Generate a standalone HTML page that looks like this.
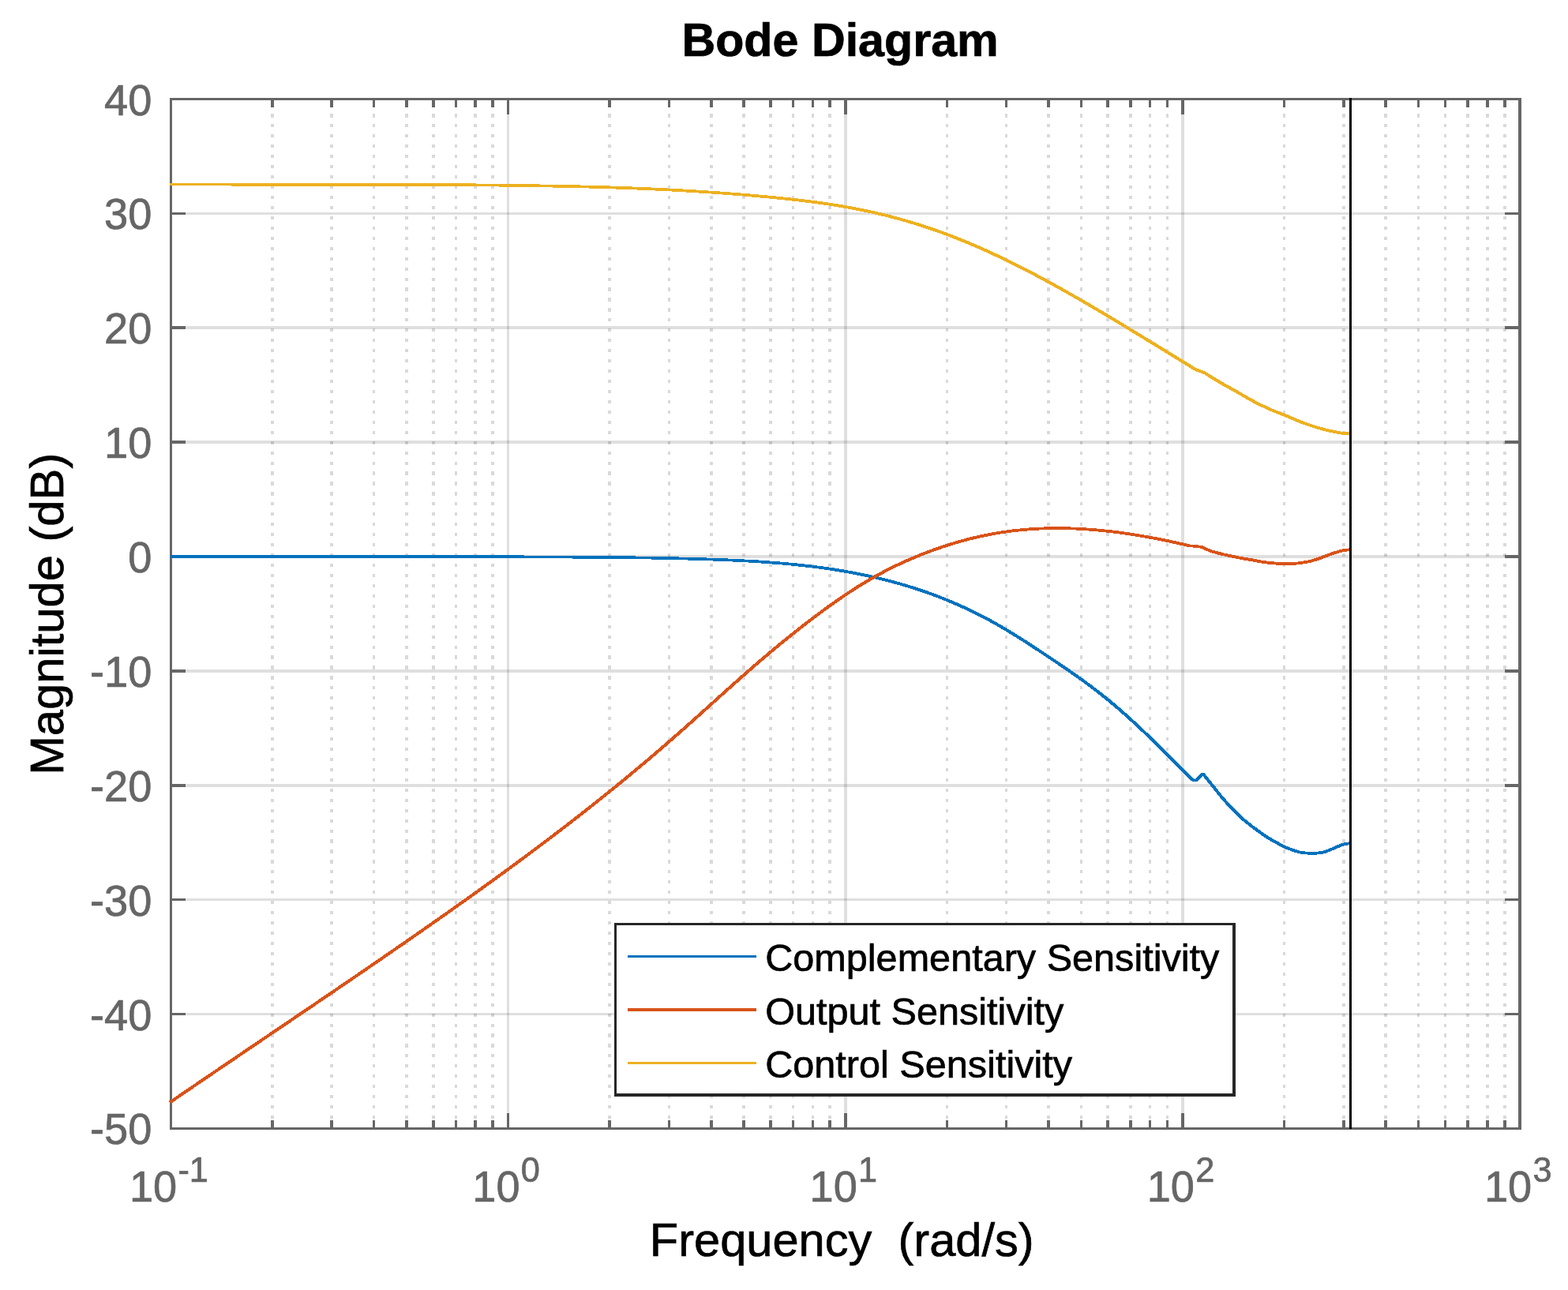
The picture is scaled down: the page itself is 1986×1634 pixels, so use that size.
<!DOCTYPE html>
<html><head><meta charset="utf-8"><title>Bode Diagram</title>
<style>html,body{margin:0;padding:0;background:#fff}svg text{font-family:"Liberation Sans",Arial,Helvetica,sans-serif}</style>
</head><body>
<svg xmlns="http://www.w3.org/2000/svg" width="1986" height="1634" viewBox="0 0 1986 1634" style="display:block">
<rect x="0" y="0" width="1986" height="1634" fill="#fff"/>
<g shape-rendering="crispEdges">
<line x1="345.0" y1="1430.1" x2="345.0" y2="127" stroke="rgba(38,38,38,0.175)" stroke-width="4" stroke-dasharray="4.15 8.795"/>
<line x1="420.0" y1="1430.1" x2="420.0" y2="127" stroke="rgba(38,38,38,0.175)" stroke-width="4" stroke-dasharray="4.15 8.795"/>
<line x1="473.5" y1="1430.1" x2="473.5" y2="127" stroke="rgba(38,38,38,0.175)" stroke-width="3" stroke-dasharray="4.15 8.795"/>
<line x1="515.0" y1="1430.1" x2="515.0" y2="127" stroke="rgba(38,38,38,0.175)" stroke-width="4" stroke-dasharray="4.15 8.795"/>
<line x1="549.0" y1="1430.1" x2="549.0" y2="127" stroke="rgba(38,38,38,0.175)" stroke-width="4" stroke-dasharray="4.15 8.795"/>
<line x1="577.5" y1="1430.1" x2="577.5" y2="127" stroke="rgba(38,38,38,0.175)" stroke-width="3" stroke-dasharray="4.15 8.795"/>
<line x1="602.0" y1="1430.1" x2="602.0" y2="127" stroke="rgba(38,38,38,0.175)" stroke-width="4" stroke-dasharray="4.15 8.795"/>
<line x1="624.0" y1="1430.1" x2="624.0" y2="127" stroke="rgba(38,38,38,0.175)" stroke-width="4" stroke-dasharray="4.15 8.795"/>
<line x1="772.0" y1="1430.1" x2="772.0" y2="127" stroke="rgba(38,38,38,0.175)" stroke-width="4" stroke-dasharray="4.15 8.795"/>
<line x1="847.5" y1="1430.1" x2="847.5" y2="127" stroke="rgba(38,38,38,0.175)" stroke-width="3" stroke-dasharray="4.15 8.795"/>
<line x1="901.0" y1="1430.1" x2="901.0" y2="127" stroke="rgba(38,38,38,0.175)" stroke-width="4" stroke-dasharray="4.15 8.795"/>
<line x1="942.0" y1="1430.1" x2="942.0" y2="127" stroke="rgba(38,38,38,0.175)" stroke-width="4" stroke-dasharray="4.15 8.795"/>
<line x1="976.0" y1="1430.1" x2="976.0" y2="127" stroke="rgba(38,38,38,0.175)" stroke-width="4" stroke-dasharray="4.15 8.795"/>
<line x1="1004.5" y1="1430.1" x2="1004.5" y2="127" stroke="rgba(38,38,38,0.175)" stroke-width="3" stroke-dasharray="4.15 8.795"/>
<line x1="1029.5" y1="1430.1" x2="1029.5" y2="127" stroke="rgba(38,38,38,0.175)" stroke-width="3" stroke-dasharray="4.15 8.795"/>
<line x1="1051.0" y1="1430.1" x2="1051.0" y2="127" stroke="rgba(38,38,38,0.175)" stroke-width="4" stroke-dasharray="4.15 8.795"/>
<line x1="1199.5" y1="1430.1" x2="1199.5" y2="127" stroke="rgba(38,38,38,0.175)" stroke-width="3" stroke-dasharray="4.15 8.795"/>
<line x1="1274.5" y1="1430.1" x2="1274.5" y2="127" stroke="rgba(38,38,38,0.175)" stroke-width="3" stroke-dasharray="4.15 8.795"/>
<line x1="1328.0" y1="1430.1" x2="1328.0" y2="127" stroke="rgba(38,38,38,0.175)" stroke-width="4" stroke-dasharray="4.15 8.795"/>
<line x1="1369.5" y1="1430.1" x2="1369.5" y2="127" stroke="rgba(38,38,38,0.175)" stroke-width="3" stroke-dasharray="4.15 8.795"/>
<line x1="1403.0" y1="1430.1" x2="1403.0" y2="127" stroke="rgba(38,38,38,0.175)" stroke-width="4" stroke-dasharray="4.15 8.795"/>
<line x1="1432.0" y1="1430.1" x2="1432.0" y2="127" stroke="rgba(38,38,38,0.175)" stroke-width="4" stroke-dasharray="4.15 8.795"/>
<line x1="1456.5" y1="1430.1" x2="1456.5" y2="127" stroke="rgba(38,38,38,0.175)" stroke-width="3" stroke-dasharray="4.15 8.795"/>
<line x1="1478.5" y1="1430.1" x2="1478.5" y2="127" stroke="rgba(38,38,38,0.175)" stroke-width="3" stroke-dasharray="4.15 8.795"/>
<line x1="1626.5" y1="1430.1" x2="1626.5" y2="127" stroke="rgba(38,38,38,0.175)" stroke-width="3" stroke-dasharray="4.15 8.795"/>
<line x1="1702.0" y1="1430.1" x2="1702.0" y2="127" stroke="rgba(38,38,38,0.175)" stroke-width="4" stroke-dasharray="4.15 8.795"/>
<line x1="1755.0" y1="1430.1" x2="1755.0" y2="127" stroke="rgba(38,38,38,0.175)" stroke-width="4" stroke-dasharray="4.15 8.795"/>
<line x1="1796.5" y1="1430.1" x2="1796.5" y2="127" stroke="rgba(38,38,38,0.175)" stroke-width="3" stroke-dasharray="4.15 8.795"/>
<line x1="1830.5" y1="1430.1" x2="1830.5" y2="127" stroke="rgba(38,38,38,0.175)" stroke-width="3" stroke-dasharray="4.15 8.795"/>
<line x1="1859.0" y1="1430.1" x2="1859.0" y2="127" stroke="rgba(38,38,38,0.175)" stroke-width="4" stroke-dasharray="4.15 8.795"/>
<line x1="1884.0" y1="1430.1" x2="1884.0" y2="127" stroke="rgba(38,38,38,0.175)" stroke-width="4" stroke-dasharray="4.15 8.795"/>
<line x1="1906.0" y1="1430.1" x2="1906.0" y2="127" stroke="rgba(38,38,38,0.175)" stroke-width="4" stroke-dasharray="4.15 8.795"/>
<rect x="642" y="127" width="3" height="1301" fill="rgba(38,38,38,0.15)"/>
<rect x="1069" y="127" width="4" height="1301" fill="rgba(38,38,38,0.15)"/>
<rect x="1496" y="127" width="4" height="1301" fill="rgba(38,38,38,0.15)"/>
<rect x="218" y="269" width="1705" height="3" fill="rgba(38,38,38,0.15)"/>
<rect x="218" y="413" width="1705" height="4" fill="rgba(38,38,38,0.15)"/>
<rect x="218" y="558" width="1705" height="4" fill="rgba(38,38,38,0.15)"/>
<rect x="218" y="703" width="1705" height="4" fill="rgba(38,38,38,0.15)"/>
<rect x="218" y="848" width="1705" height="4" fill="rgba(38,38,38,0.15)"/>
<rect x="218" y="993" width="1705" height="4" fill="rgba(38,38,38,0.15)"/>
<rect x="218" y="1138" width="1705" height="3" fill="rgba(38,38,38,0.15)"/>
<rect x="218" y="1283" width="1705" height="3" fill="rgba(38,38,38,0.15)"/>
</g>
<g fill="#666666" shape-rendering="crispEdges">
<rect x="343" y="1419" width="4" height="9"/>
<rect x="343" y="127" width="4" height="9"/>
<rect x="418" y="1419" width="4" height="9"/>
<rect x="418" y="127" width="4" height="9"/>
<rect x="472" y="1419" width="3" height="9"/>
<rect x="472" y="127" width="3" height="9"/>
<rect x="513" y="1419" width="4" height="9"/>
<rect x="513" y="127" width="4" height="9"/>
<rect x="547" y="1419" width="4" height="9"/>
<rect x="547" y="127" width="4" height="9"/>
<rect x="576" y="1419" width="3" height="9"/>
<rect x="576" y="127" width="3" height="9"/>
<rect x="600" y="1419" width="4" height="9"/>
<rect x="600" y="127" width="4" height="9"/>
<rect x="622" y="1419" width="4" height="9"/>
<rect x="622" y="127" width="4" height="9"/>
<rect x="642" y="1410" width="3" height="18"/>
<rect x="642" y="127" width="3" height="18"/>
<rect x="770" y="1419" width="4" height="9"/>
<rect x="770" y="127" width="4" height="9"/>
<rect x="846" y="1419" width="3" height="9"/>
<rect x="846" y="127" width="3" height="9"/>
<rect x="899" y="1419" width="4" height="9"/>
<rect x="899" y="127" width="4" height="9"/>
<rect x="940" y="1419" width="4" height="9"/>
<rect x="940" y="127" width="4" height="9"/>
<rect x="974" y="1419" width="4" height="9"/>
<rect x="974" y="127" width="4" height="9"/>
<rect x="1003" y="1419" width="3" height="9"/>
<rect x="1003" y="127" width="3" height="9"/>
<rect x="1028" y="1419" width="3" height="9"/>
<rect x="1028" y="127" width="3" height="9"/>
<rect x="1049" y="1419" width="4" height="9"/>
<rect x="1049" y="127" width="4" height="9"/>
<rect x="1069" y="1410" width="4" height="18"/>
<rect x="1069" y="127" width="4" height="18"/>
<rect x="1198" y="1419" width="3" height="9"/>
<rect x="1198" y="127" width="3" height="9"/>
<rect x="1273" y="1419" width="3" height="9"/>
<rect x="1273" y="127" width="3" height="9"/>
<rect x="1326" y="1419" width="4" height="9"/>
<rect x="1326" y="127" width="4" height="9"/>
<rect x="1368" y="1419" width="3" height="9"/>
<rect x="1368" y="127" width="3" height="9"/>
<rect x="1401" y="1419" width="4" height="9"/>
<rect x="1401" y="127" width="4" height="9"/>
<rect x="1430" y="1419" width="4" height="9"/>
<rect x="1430" y="127" width="4" height="9"/>
<rect x="1455" y="1419" width="3" height="9"/>
<rect x="1455" y="127" width="3" height="9"/>
<rect x="1477" y="1419" width="3" height="9"/>
<rect x="1477" y="127" width="3" height="9"/>
<rect x="1496" y="1410" width="4" height="18"/>
<rect x="1496" y="127" width="4" height="18"/>
<rect x="1625" y="1419" width="3" height="9"/>
<rect x="1625" y="127" width="3" height="9"/>
<rect x="1700" y="1419" width="4" height="9"/>
<rect x="1700" y="127" width="4" height="9"/>
<rect x="1753" y="1419" width="4" height="9"/>
<rect x="1753" y="127" width="4" height="9"/>
<rect x="1795" y="1419" width="3" height="9"/>
<rect x="1795" y="127" width="3" height="9"/>
<rect x="1829" y="1419" width="3" height="9"/>
<rect x="1829" y="127" width="3" height="9"/>
<rect x="1857" y="1419" width="4" height="9"/>
<rect x="1857" y="127" width="4" height="9"/>
<rect x="1882" y="1419" width="4" height="9"/>
<rect x="1882" y="127" width="4" height="9"/>
<rect x="1904" y="1419" width="4" height="9"/>
<rect x="1904" y="127" width="4" height="9"/>
<rect x="218" y="269" width="17" height="3"/>
<rect x="1906" y="269" width="17" height="3"/>
<rect x="218" y="413" width="17" height="4"/>
<rect x="1906" y="413" width="17" height="4"/>
<rect x="218" y="558" width="17" height="4"/>
<rect x="1906" y="558" width="17" height="4"/>
<rect x="218" y="703" width="17" height="4"/>
<rect x="1906" y="703" width="17" height="4"/>
<rect x="218" y="848" width="17" height="4"/>
<rect x="1906" y="848" width="17" height="4"/>
<rect x="218" y="993" width="17" height="4"/>
<rect x="1906" y="993" width="17" height="4"/>
<rect x="218" y="1138" width="17" height="3"/>
<rect x="1906" y="1138" width="17" height="3"/>
<rect x="218" y="1283" width="17" height="3"/>
<rect x="1906" y="1283" width="17" height="3"/>
<rect x="215" y="124" width="1712" height="3"/>
<rect x="215" y="1428" width="1712" height="3"/>
<rect x="215" y="124" width="3" height="1307"/>
<rect x="1923" y="124" width="4" height="1307"/>
</g>
<defs>
<path id="c-blue" d="M216.0,705.04 L218.5,705.04 L221.0,705.04 L223.5,705.05 L226.0,705.05 L228.5,705.05 L231.0,705.06 L233.5,705.06 L236.0,705.06 L238.5,705.07 L241.0,705.07 L243.5,705.07 L246.0,705.07 L248.5,705.08 L251.0,705.08 L253.5,705.08 L256.0,705.08 L258.5,705.08 L261.0,705.09 L263.5,705.09 L266.0,705.09 L268.5,705.09 L271.0,705.09 L273.5,705.09 L276.0,705.09 L278.5,705.10 L281.0,705.10 L283.5,705.10 L286.0,705.10 L288.5,705.10 L291.0,705.10 L293.5,705.10 L296.0,705.10 L298.5,705.10 L301.0,705.10 L303.5,705.10 L306.0,705.10 L308.5,705.10 L311.0,705.10 L313.5,705.10 L316.0,705.10 L318.5,705.10 L321.0,705.10 L323.5,705.10 L326.0,705.10 L328.5,705.10 L331.0,705.10 L333.5,705.10 L336.0,705.10 L338.5,705.10 L341.0,705.10 L343.5,705.10 L346.0,705.10 L348.5,705.10 L351.0,705.10 L353.5,705.10 L356.0,705.10 L358.5,705.09 L361.0,705.09 L363.5,705.09 L366.0,705.09 L368.5,705.09 L371.0,705.09 L373.5,705.09 L376.0,705.09 L378.5,705.09 L381.0,705.09 L383.5,705.09 L386.0,705.08 L388.5,705.08 L391.0,705.08 L393.5,705.08 L396.0,705.08 L398.5,705.08 L401.0,705.08 L403.5,705.08 L406.0,705.08 L408.5,705.08 L411.0,705.07 L413.5,705.07 L416.0,705.07 L418.5,705.07 L421.0,705.07 L423.5,705.07 L426.0,705.07 L428.5,705.07 L431.0,705.07 L433.5,705.07 L436.0,705.07 L438.5,705.07 L441.0,705.06 L443.5,705.06 L446.0,705.06 L448.5,705.06 L451.0,705.06 L453.5,705.06 L456.0,705.06 L458.5,705.06 L461.0,705.06 L463.5,705.06 L466.0,705.06 L468.5,705.06 L471.0,705.06 L473.5,705.06 L476.0,705.06 L478.5,705.06 L481.0,705.06 L483.5,705.06 L486.0,705.06 L488.5,705.06 L491.0,705.06 L493.5,705.06 L496.0,705.06 L498.5,705.06 L501.0,705.06 L503.5,705.06 L506.0,705.06 L508.5,705.06 L511.0,705.06 L513.5,705.06 L516.0,705.07 L518.5,705.07 L521.0,705.07 L523.5,705.07 L526.0,705.07 L528.5,705.07 L531.0,705.07 L533.5,705.08 L536.0,705.08 L538.5,705.08 L541.0,705.08 L543.5,705.08 L546.0,705.09 L548.5,705.09 L551.0,705.09 L553.5,705.09 L556.0,705.10 L558.5,705.10 L561.0,705.10 L563.5,705.10 L566.0,705.11 L568.5,705.11 L571.0,705.11 L573.5,705.12 L576.0,705.12 L578.5,705.13 L581.0,705.13 L583.5,705.13 L586.0,705.14 L588.5,705.14 L591.0,705.15 L593.5,705.15 L596.0,705.16 L598.5,705.16 L601.0,705.17 L603.5,705.17 L606.0,705.18 L608.5,705.18 L611.0,705.19 L613.5,705.19 L616.0,705.20 L618.5,705.21 L621.0,705.21 L623.5,705.22 L626.0,705.22 L628.5,705.23 L631.0,705.24 L633.5,705.25 L636.0,705.25 L638.5,705.26 L641.0,705.27 L643.5,705.28 L646.0,705.28 L648.5,705.29 L651.0,705.30 L653.5,705.31 L656.0,705.32 L658.5,705.33 L661.0,705.34 L663.5,705.35 L666.0,705.36 L668.5,705.37 L671.0,705.38 L673.5,705.39 L676.0,705.40 L678.5,705.41 L681.0,705.42 L683.5,705.43 L686.0,705.44 L688.5,705.45 L691.0,705.46 L693.5,705.48 L696.0,705.49 L698.5,705.50 L701.0,705.51 L703.5,705.53 L706.0,705.54 L708.5,705.55 L711.0,705.56 L713.5,705.58 L716.0,705.59 L718.5,705.61 L721.0,705.62 L723.5,705.64 L726.0,705.65 L728.5,705.67 L731.0,705.68 L733.5,705.70 L736.0,705.71 L738.5,705.73 L741.0,705.75 L743.5,705.76 L746.0,705.78 L748.5,705.80 L751.0,705.82 L753.5,705.83 L756.0,705.85 L758.5,705.87 L761.0,705.89 L763.5,705.91 L766.0,705.94 L768.5,705.96 L771.0,705.98 L773.5,706.00 L776.0,706.03 L778.5,706.05 L781.0,706.08 L783.5,706.10 L786.0,706.13 L788.5,706.16 L791.0,706.18 L793.5,706.21 L796.0,706.24 L798.5,706.27 L801.0,706.30 L803.5,706.34 L806.0,706.37 L808.5,706.40 L811.0,706.44 L813.5,706.48 L816.0,706.51 L818.5,706.55 L821.0,706.59 L823.5,706.63 L826.0,706.67 L828.5,706.72 L831.0,706.76 L833.5,706.81 L836.0,706.85 L838.5,706.90 L841.0,706.95 L843.5,707.00 L846.0,707.05 L848.5,707.11 L851.0,707.16 L853.5,707.22 L856.0,707.27 L858.5,707.33 L861.0,707.39 L863.5,707.45 L866.0,707.52 L868.5,707.58 L871.0,707.65 L873.5,707.71 L876.0,707.78 L878.5,707.85 L881.0,707.93 L883.5,708.00 L886.0,708.08 L888.5,708.15 L891.0,708.23 L893.5,708.31 L896.0,708.40 L898.5,708.48 L901.0,708.57 L903.5,708.66 L906.0,708.75 L908.5,708.84 L911.0,708.93 L913.5,709.03 L916.0,709.13 L918.5,709.23 L921.0,709.33 L923.5,709.44 L926.0,709.55 L928.5,709.66 L931.0,709.77 L933.5,709.89 L936.0,710.01 L938.5,710.14 L941.0,710.26 L943.5,710.39 L946.0,710.53 L948.5,710.66 L951.0,710.81 L953.5,710.95 L956.0,711.10 L958.5,711.25 L961.0,711.41 L963.5,711.57 L966.0,711.73 L968.5,711.90 L971.0,712.08 L973.5,712.26 L976.0,712.44 L978.5,712.63 L981.0,712.82 L983.5,713.02 L986.0,713.22 L988.5,713.43 L991.0,713.64 L993.5,713.86 L996.0,714.09 L998.5,714.32 L1001.0,714.55 L1003.5,714.79 L1006.0,715.04 L1008.5,715.29 L1011.0,715.55 L1013.5,715.82 L1016.0,716.09 L1018.5,716.37 L1021.0,716.65 L1023.5,716.94 L1026.0,717.24 L1028.5,717.54 L1031.0,717.86 L1033.5,718.17 L1036.0,718.50 L1038.5,718.83 L1041.0,719.17 L1043.5,719.52 L1046.0,719.87 L1048.5,720.23 L1051.0,720.60 L1053.5,720.98 L1056.0,721.37 L1058.5,721.76 L1061.0,722.16 L1063.5,722.57 L1066.0,722.99 L1068.5,723.42 L1071.0,723.85 L1073.5,724.29 L1076.0,724.75 L1078.5,725.21 L1081.0,725.68 L1083.5,726.15 L1086.0,726.64 L1088.5,727.14 L1091.0,727.64 L1093.5,728.16 L1096.0,728.68 L1098.5,729.22 L1101.0,729.76 L1103.5,730.32 L1106.0,730.88 L1108.5,731.45 L1111.0,732.04 L1113.5,732.63 L1116.0,733.24 L1118.5,733.85 L1121.0,734.47 L1123.5,735.11 L1126.0,735.76 L1128.5,736.41 L1131.0,737.08 L1133.5,737.76 L1136.0,738.45 L1138.5,739.15 L1141.0,739.87 L1143.5,740.59 L1146.0,741.33 L1148.5,742.08 L1151.0,742.84 L1153.5,743.61 L1156.0,744.39 L1158.5,745.19 L1161.0,746.00 L1163.5,746.82 L1166.0,747.66 L1168.5,748.50 L1171.0,749.36 L1173.5,750.24 L1176.0,751.12 L1178.5,752.02 L1181.0,752.93 L1183.5,753.86 L1186.0,754.80 L1188.5,755.75 L1191.0,756.72 L1193.5,757.70 L1196.0,758.70 L1198.5,759.70 L1201.0,760.73 L1203.5,761.77 L1206.0,762.82 L1208.5,763.89 L1211.0,764.97 L1213.5,766.06 L1216.0,767.18 L1218.5,768.30 L1221.0,769.44 L1223.5,770.60 L1226.0,771.77 L1228.5,772.96 L1231.0,774.17 L1233.5,775.39 L1236.0,776.62 L1238.5,777.87 L1241.0,779.14 L1243.5,780.43 L1246.0,781.73 L1248.5,783.04 L1251.0,784.38 L1253.5,785.73 L1256.0,787.09 L1258.5,788.48 L1261.0,789.88 L1263.5,791.30 L1266.0,792.73 L1268.5,794.18 L1271.0,795.65 L1273.5,797.13 L1276.0,798.62 L1278.5,800.13 L1281.0,801.65 L1283.5,803.19 L1286.0,804.74 L1288.5,806.29 L1291.0,807.86 L1293.5,809.44 L1296.0,811.03 L1298.5,812.63 L1301.0,814.23 L1303.5,815.85 L1306.0,817.47 L1308.5,819.10 L1311.0,820.74 L1313.5,822.38 L1316.0,824.03 L1318.5,825.68 L1321.0,827.34 L1323.5,829.00 L1326.0,830.66 L1328.5,832.33 L1331.0,834.00 L1333.5,835.67 L1336.0,837.35 L1338.5,839.03 L1341.0,840.71 L1343.5,842.41 L1346.0,844.10 L1348.5,845.81 L1351.0,847.52 L1353.5,849.24 L1356.0,850.98 L1358.5,852.72 L1361.0,854.47 L1363.5,856.23 L1366.0,858.01 L1368.5,859.79 L1371.0,861.59 L1373.5,863.41 L1376.0,865.24 L1378.5,867.08 L1381.0,868.94 L1383.5,870.82 L1386.0,872.71 L1388.5,874.62 L1391.0,876.56 L1393.5,878.51 L1396.0,880.48 L1398.5,882.47 L1401.0,884.48 L1403.5,886.51 L1406.0,888.57 L1408.5,890.65 L1411.0,892.75 L1413.5,894.87 L1416.0,897.01 L1418.5,899.18 L1421.0,901.36 L1423.5,903.56 L1426.0,905.78 L1428.5,908.02 L1431.0,910.28 L1433.5,912.55 L1436.0,914.84 L1438.5,917.15 L1441.0,919.47 L1443.5,921.81 L1446.0,924.17 L1448.5,926.54 L1451.0,928.92 L1453.5,931.32 L1456.0,933.73 L1458.5,936.16 L1461.0,938.59 L1463.5,941.04 L1466.0,943.50 L1468.5,945.98 L1471.0,948.46 L1473.5,950.95 L1476.0,953.45 L1478.5,955.96 L1481.0,958.48 L1483.5,961.01 L1486.0,963.55 L1488.5,966.09 L1491.0,968.65 L1493.5,971.20 L1496.0,973.77 L1498.5,976.34 L1500.0,977.88 L1505.0,982.60 L1510.4,987.60 L1511.9,988.40 L1513.4,988.60 L1514.9,988.40 L1516.4,987.40 L1522.0,981.30 L1523.4,980.60 L1524.7,981.40 L1529.6,987.60 L1530.0,988.08 L1532.5,991.11 L1535.0,994.16 L1535.6,994.90 L1537.5,997.27 L1540.0,1000.45 L1542.5,1003.64 L1545.0,1006.78 L1547.5,1009.81 L1548.0,1010.40 L1550.0,1012.71 L1552.5,1015.53 L1555.0,1018.28 L1557.5,1020.97 L1560.0,1023.61 L1562.1,1025.80 L1562.5,1026.21 L1565.0,1028.78 L1567.5,1031.28 L1570.0,1033.68 L1570.3,1034.00 L1572.5,1035.95 L1575.0,1038.13 L1577.5,1040.23 L1580.0,1042.28 L1580.4,1042.60 L1582.5,1044.27 L1585.0,1046.20 L1587.5,1048.08 L1590.0,1049.93 L1590.5,1050.30 L1592.5,1051.77 L1595.0,1053.58 L1597.5,1055.36 L1600.0,1057.09 L1600.6,1057.50 L1602.5,1058.77 L1605.0,1060.42 L1607.5,1062.01 L1610.0,1063.54 L1610.6,1063.90 L1612.5,1064.99 L1615.0,1066.37 L1617.5,1067.71 L1620.0,1069.03 L1620.7,1069.40 L1622.5,1070.36 L1625.0,1071.66 L1626.5,1072.40 L1627.5,1072.87 L1630.0,1073.97 L1630.8,1074.30 L1632.5,1074.97 L1635.0,1075.91 L1637.5,1076.79 L1640.0,1077.63 L1640.8,1077.90 L1642.5,1078.44 L1645.0,1079.20 L1646.4,1079.50 L1647.5,1079.68 L1650.0,1080.04 L1652.5,1080.34 L1655.0,1080.57 L1657.0,1080.70 L1657.5,1080.73 L1660.0,1080.86 L1662.0,1080.90 L1662.5,1080.90 L1665.0,1080.81 L1667.0,1080.70 L1667.5,1080.67 L1670.0,1080.45 L1672.5,1080.12 L1675.0,1079.71 L1676.1,1079.50 L1677.5,1079.15 L1680.0,1078.30 L1681.1,1077.90 L1682.5,1077.38 L1685.0,1076.36 L1687.5,1075.27 L1690.0,1074.20 L1691.2,1073.70 L1692.5,1073.15 L1695.0,1072.03 L1697.5,1070.95 L1700.0,1070.05 L1701.3,1069.70 L1702.5,1069.43 L1705.0,1068.91 L1707.5,1068.49 L1710.0,1068.22 L1710.4,1068.20"/>
<path id="c-orange" d="M215.5,1396.19 L218.0,1394.48 L220.5,1392.77 L223.0,1391.06 L225.5,1389.35 L228.0,1387.64 L230.5,1385.94 L233.0,1384.23 L235.5,1382.52 L238.0,1380.82 L240.5,1379.11 L243.0,1377.41 L245.5,1375.71 L248.0,1374.01 L250.5,1372.30 L253.0,1370.60 L255.5,1368.90 L258.0,1367.20 L260.5,1365.50 L263.0,1363.80 L265.5,1362.10 L268.0,1360.41 L270.5,1358.71 L273.0,1357.01 L275.5,1355.32 L278.0,1353.62 L280.5,1351.92 L283.0,1350.23 L285.5,1348.53 L288.0,1346.84 L290.5,1345.14 L293.0,1343.45 L295.5,1341.76 L298.0,1340.06 L300.5,1338.37 L303.0,1336.68 L305.5,1334.99 L308.0,1333.29 L310.5,1331.60 L313.0,1329.91 L315.5,1328.22 L318.0,1326.53 L320.5,1324.84 L323.0,1323.14 L325.5,1321.45 L328.0,1319.76 L330.5,1318.07 L333.0,1316.38 L335.5,1314.69 L338.0,1313.00 L340.5,1311.31 L343.0,1309.62 L345.5,1307.93 L348.0,1306.24 L350.5,1304.55 L353.0,1302.85 L355.5,1301.16 L358.0,1299.47 L360.5,1297.78 L363.0,1296.09 L365.5,1294.40 L368.0,1292.71 L370.5,1291.01 L373.0,1289.32 L375.5,1287.63 L378.0,1285.94 L380.5,1284.24 L383.0,1282.55 L385.5,1280.86 L388.0,1279.16 L390.5,1277.47 L393.0,1275.78 L395.5,1274.08 L398.0,1272.39 L400.5,1270.69 L403.0,1268.99 L405.5,1267.30 L408.0,1265.60 L410.5,1263.90 L413.0,1262.20 L415.5,1260.51 L418.0,1258.81 L420.5,1257.11 L423.0,1255.41 L425.5,1253.71 L428.0,1252.01 L430.5,1250.30 L433.0,1248.60 L435.5,1246.90 L438.0,1245.19 L440.5,1243.49 L443.0,1241.79 L445.5,1240.08 L448.0,1238.37 L450.5,1236.67 L453.0,1234.96 L455.5,1233.25 L458.0,1231.54 L460.5,1229.83 L463.0,1228.12 L465.5,1226.40 L468.0,1224.69 L470.5,1222.98 L473.0,1221.26 L475.5,1219.55 L478.0,1217.83 L480.5,1216.11 L483.0,1214.39 L485.5,1212.67 L488.0,1210.95 L490.5,1209.23 L493.0,1207.51 L495.5,1205.79 L498.0,1204.06 L500.5,1202.34 L503.0,1200.61 L505.5,1198.88 L508.0,1197.15 L510.5,1195.42 L513.0,1193.69 L515.5,1191.96 L518.0,1190.22 L520.5,1188.49 L523.0,1186.75 L525.5,1185.01 L528.0,1183.27 L530.5,1181.53 L533.0,1179.79 L535.5,1178.05 L538.0,1176.30 L540.5,1174.56 L543.0,1172.81 L545.5,1171.06 L548.0,1169.31 L550.5,1167.56 L553.0,1165.81 L555.5,1164.05 L558.0,1162.30 L560.5,1160.54 L563.0,1158.78 L565.5,1157.02 L568.0,1155.26 L570.5,1153.50 L573.0,1151.73 L575.5,1149.96 L578.0,1148.19 L580.5,1146.42 L583.0,1144.65 L585.5,1142.87 L588.0,1141.10 L590.5,1139.32 L593.0,1137.54 L595.5,1135.76 L598.0,1133.97 L600.5,1132.18 L603.0,1130.39 L605.5,1128.60 L608.0,1126.81 L610.5,1125.01 L613.0,1123.22 L615.5,1121.41 L618.0,1119.61 L620.5,1117.81 L623.0,1116.00 L625.5,1114.19 L628.0,1112.38 L630.5,1110.56 L633.0,1108.74 L635.5,1106.92 L638.0,1105.10 L640.5,1103.28 L643.0,1101.45 L645.5,1099.62 L648.0,1097.78 L650.5,1095.95 L653.0,1094.11 L655.5,1092.27 L658.0,1090.42 L660.5,1088.57 L663.0,1086.72 L665.5,1084.87 L668.0,1083.01 L670.5,1081.15 L673.0,1079.29 L675.5,1077.42 L678.0,1075.56 L680.5,1073.68 L683.0,1071.81 L685.5,1069.93 L688.0,1068.05 L690.5,1066.16 L693.0,1064.27 L695.5,1062.38 L698.0,1060.49 L700.5,1058.59 L703.0,1056.68 L705.5,1054.78 L708.0,1052.87 L710.5,1050.95 L713.0,1049.04 L715.5,1047.12 L718.0,1045.19 L720.5,1043.27 L723.0,1041.33 L725.5,1039.40 L728.0,1037.46 L730.5,1035.52 L733.0,1033.57 L735.5,1031.62 L738.0,1029.66 L740.5,1027.70 L743.0,1025.74 L745.5,1023.77 L748.0,1021.80 L750.5,1019.82 L753.0,1017.84 L755.5,1015.86 L758.0,1013.87 L760.5,1011.87 L763.0,1009.88 L765.5,1007.87 L768.0,1005.87 L770.5,1003.85 L773.0,1001.84 L775.5,999.81 L778.0,997.79 L780.5,995.76 L783.0,993.72 L785.5,991.68 L788.0,989.63 L790.5,987.58 L793.0,985.53 L795.5,983.46 L798.0,981.40 L800.5,979.33 L803.0,977.25 L805.5,975.17 L808.0,973.08 L810.5,970.98 L813.0,968.88 L815.5,966.78 L818.0,964.67 L820.5,962.55 L823.0,960.43 L825.5,958.31 L828.0,956.17 L830.5,954.04 L833.0,951.89 L835.5,949.74 L838.0,947.59 L840.5,945.43 L843.0,943.26 L845.5,941.09 L848.0,938.92 L850.5,936.74 L853.0,934.55 L855.5,932.36 L858.0,930.17 L860.5,927.97 L863.0,925.76 L865.5,923.55 L868.0,921.34 L870.5,919.12 L873.0,916.89 L875.5,914.67 L878.0,912.43 L880.5,910.20 L883.0,907.96 L885.5,905.72 L888.0,903.47 L890.5,901.23 L893.0,898.98 L895.5,896.73 L898.0,894.48 L900.5,892.23 L903.0,889.98 L905.5,887.73 L908.0,885.48 L910.5,883.23 L913.0,880.98 L915.5,878.74 L918.0,876.50 L920.5,874.25 L923.0,872.02 L925.5,869.78 L928.0,867.55 L930.5,865.32 L933.0,863.10 L935.5,860.88 L938.0,858.67 L940.5,856.47 L943.0,854.26 L945.5,852.07 L948.0,849.88 L950.5,847.70 L953.0,845.53 L955.5,843.36 L958.0,841.20 L960.5,839.05 L963.0,836.91 L965.5,834.77 L968.0,832.65 L970.5,830.53 L973.0,828.41 L975.5,826.31 L978.0,824.22 L980.5,822.13 L983.0,820.05 L985.5,817.98 L988.0,815.92 L990.5,813.87 L993.0,811.83 L995.5,809.79 L998.0,807.77 L1000.5,805.75 L1003.0,803.75 L1005.5,801.75 L1008.0,799.77 L1010.5,797.79 L1013.0,795.82 L1015.5,793.87 L1018.0,791.92 L1020.5,789.98 L1023.0,788.06 L1025.5,786.14 L1028.0,784.24 L1030.5,782.34 L1033.0,780.46 L1035.5,778.59 L1038.0,776.73 L1040.5,774.88 L1043.0,773.04 L1045.5,771.21 L1048.0,769.40 L1050.5,767.59 L1053.0,765.81 L1055.5,764.03 L1058.0,762.27 L1060.5,760.52 L1063.0,758.79 L1065.5,757.07 L1068.0,755.37 L1070.5,753.69 L1073.0,752.01 L1075.5,750.36 L1078.0,748.72 L1080.5,747.10 L1083.0,745.50 L1085.5,743.91 L1088.0,742.34 L1090.5,740.79 L1093.0,739.26 L1095.5,737.75 L1098.0,736.26 L1100.5,734.79 L1103.0,733.34 L1105.5,731.90 L1108.0,730.49 L1110.5,729.10 L1113.0,727.73 L1115.5,726.38 L1118.0,725.04 L1120.5,723.73 L1123.0,722.43 L1125.5,721.16 L1128.0,719.90 L1130.5,718.66 L1133.0,717.44 L1135.5,716.23 L1138.0,715.04 L1140.5,713.87 L1143.0,712.72 L1145.5,711.58 L1148.0,710.46 L1150.5,709.36 L1153.0,708.27 L1155.5,707.19 L1158.0,706.14 L1160.5,705.09 L1163.0,704.07 L1165.5,703.06 L1168.0,702.06 L1170.5,701.08 L1173.0,700.11 L1175.5,699.16 L1178.0,698.22 L1180.5,697.30 L1183.0,696.39 L1185.5,695.50 L1188.0,694.62 L1190.5,693.76 L1193.0,692.91 L1195.5,692.08 L1198.0,691.26 L1200.5,690.45 L1203.0,689.67 L1205.5,688.89 L1208.0,688.14 L1210.5,687.39 L1213.0,686.67 L1215.5,685.95 L1218.0,685.25 L1220.5,684.57 L1223.0,683.90 L1225.5,683.25 L1228.0,682.61 L1230.5,681.99 L1233.0,681.38 L1235.5,680.79 L1238.0,680.21 L1240.5,679.65 L1243.0,679.10 L1245.5,678.57 L1248.0,678.05 L1250.5,677.54 L1253.0,677.06 L1255.5,676.58 L1258.0,676.12 L1260.5,675.68 L1263.0,675.25 L1265.5,674.84 L1268.0,674.44 L1270.5,674.06 L1273.0,673.69 L1275.5,673.34 L1278.0,673.00 L1280.5,672.68 L1283.0,672.37 L1285.5,672.07 L1288.0,671.80 L1290.5,671.53 L1293.0,671.28 L1295.5,671.04 L1298.0,670.82 L1300.5,670.62 L1303.0,670.42 L1305.5,670.24 L1308.0,670.08 L1310.5,669.92 L1313.0,669.78 L1315.5,669.66 L1318.0,669.54 L1320.5,669.44 L1323.0,669.36 L1325.5,669.28 L1328.0,669.22 L1330.5,669.18 L1333.0,669.14 L1335.5,669.12 L1338.0,669.11 L1340.5,669.11 L1343.0,669.12 L1345.5,669.15 L1348.0,669.18 L1350.5,669.23 L1353.0,669.30 L1355.5,669.37 L1358.0,669.45 L1360.5,669.55 L1363.0,669.65 L1365.5,669.77 L1368.0,669.90 L1370.5,670.04 L1373.0,670.19 L1375.5,670.35 L1378.0,670.52 L1380.5,670.70 L1383.0,670.90 L1385.5,671.10 L1388.0,671.31 L1390.5,671.53 L1393.0,671.77 L1395.5,672.01 L1398.0,672.26 L1400.5,672.53 L1403.0,672.80 L1405.5,673.08 L1408.0,673.37 L1410.5,673.67 L1413.0,673.98 L1415.5,674.30 L1418.0,674.63 L1420.5,674.96 L1423.0,675.31 L1425.5,675.66 L1428.0,676.03 L1430.5,676.40 L1433.0,676.78 L1435.5,677.17 L1438.0,677.56 L1440.5,677.97 L1443.0,678.38 L1445.5,678.80 L1448.0,679.23 L1450.5,679.67 L1453.0,680.11 L1455.5,680.57 L1458.0,681.03 L1460.5,681.49 L1463.0,681.97 L1465.5,682.45 L1468.0,682.94 L1470.5,683.44 L1473.0,683.94 L1475.5,684.45 L1478.0,684.97 L1480.5,685.49 L1483.0,686.03 L1485.5,686.56 L1488.0,687.11 L1490.5,687.66 L1493.0,688.21 L1495.5,688.78 L1498.0,689.35 L1500.5,689.92 L1503.0,690.50 L1505.5,691.09 L1507.9,691.66 L1510.4,691.58 L1512.9,691.81 L1515.4,692.08 L1517.8,692.37 L1517.9,692.38 L1520.4,692.69 L1522.9,693.13 L1523.6,693.30 L1525.4,694.25 L1525.8,694.50 L1527.9,695.50 L1529.9,696.50 L1530.4,696.69 L1532.9,697.50 L1534.9,698.50 L1535.4,698.65 L1537.9,699.19 L1538.9,699.42 L1540.4,699.90 L1542.0,700.42 L1542.9,700.66 L1545.4,701.25 L1546.0,701.40 L1547.9,701.88 L1550.0,702.40 L1550.4,702.49 L1552.9,703.00 L1554.8,703.40 L1555.4,703.52 L1557.9,704.13 L1559.1,704.40 L1560.4,704.67 L1562.9,705.16 L1564.1,705.40 L1565.4,705.67 L1567.9,706.19 L1569.0,706.40 L1570.4,706.67 L1572.9,707.12 L1575.4,707.55 L1577.9,707.98 L1580.4,708.40 L1582.9,708.82 L1584.5,709.10 L1585.4,709.26 L1587.9,709.73 L1590.4,710.21 L1592.9,710.70 L1595.4,711.16 L1597.9,711.59 L1600.4,711.97 L1600.6,712.00 L1602.9,712.30 L1605.4,712.60 L1607.9,712.87 L1610.3,713.10 L1610.4,713.11 L1612.9,713.34 L1615.4,713.57 L1617.9,713.76 L1620.4,713.88 L1621.0,713.90 L1622.9,713.94 L1625.4,713.99 L1627.9,714.03 L1630.4,714.05 L1631.3,714.05 L1632.9,714.04 L1635.4,713.97 L1637.9,713.86 L1640.4,713.73 L1641.0,713.70 L1642.9,713.56 L1645.4,713.29 L1647.9,712.95 L1650.4,712.58 L1650.9,712.50 L1652.9,712.18 L1655.4,711.73 L1657.9,711.22 L1660.4,710.65 L1661.0,710.50 L1662.9,709.94 L1665.4,709.09 L1666.0,708.90 L1667.9,708.35 L1670.4,707.61 L1671.0,707.40 L1672.9,706.70 L1675.4,705.66 L1677.1,705.00 L1677.9,704.73 L1680.4,703.94 L1681.1,703.70 L1682.9,702.98 L1685.4,701.90 L1687.2,701.20 L1687.9,700.97 L1690.4,700.23 L1691.2,700.00 L1692.9,699.50 L1695.4,698.75 L1697.9,698.04 L1700.4,697.46 L1701.3,697.30 L1702.9,697.04 L1705.4,696.68 L1707.9,696.39 L1710.4,696.20"/>
<path id="c-yellow" d="M216.0,233.44 L218.5,233.45 L221.0,233.46 L223.5,233.47 L226.0,233.48 L228.5,233.49 L231.0,233.50 L233.5,233.51 L236.0,233.52 L238.5,233.53 L241.0,233.54 L243.5,233.54 L246.0,233.55 L248.5,233.56 L251.0,233.57 L253.5,233.57 L256.0,233.58 L258.5,233.59 L261.0,233.59 L263.5,233.60 L266.0,233.60 L268.5,233.61 L271.0,233.61 L273.5,233.62 L276.0,233.62 L278.5,233.63 L281.0,233.63 L283.5,233.64 L286.0,233.64 L288.5,233.64 L291.0,233.65 L293.5,233.65 L296.0,233.65 L298.5,233.66 L301.0,233.66 L303.5,233.66 L306.0,233.66 L308.5,233.66 L311.0,233.67 L313.5,233.67 L316.0,233.67 L318.5,233.67 L321.0,233.67 L323.5,233.68 L326.0,233.68 L328.5,233.68 L331.0,233.68 L333.5,233.68 L336.0,233.68 L338.5,233.68 L341.0,233.68 L343.5,233.68 L346.0,233.68 L348.5,233.68 L351.0,233.68 L353.5,233.68 L356.0,233.68 L358.5,233.68 L361.0,233.68 L363.5,233.68 L366.0,233.68 L368.5,233.68 L371.0,233.68 L373.5,233.69 L376.0,233.69 L378.5,233.69 L381.0,233.69 L383.5,233.69 L386.0,233.69 L388.5,233.69 L391.0,233.69 L393.5,233.69 L396.0,233.69 L398.5,233.69 L401.0,233.69 L403.5,233.69 L406.0,233.69 L408.5,233.69 L411.0,233.69 L413.5,233.69 L416.0,233.69 L418.5,233.69 L421.0,233.69 L423.5,233.69 L426.0,233.69 L428.5,233.69 L431.0,233.70 L433.5,233.70 L436.0,233.70 L438.5,233.70 L441.0,233.70 L443.5,233.70 L446.0,233.71 L448.5,233.71 L451.0,233.71 L453.5,233.71 L456.0,233.72 L458.5,233.72 L461.0,233.72 L463.5,233.72 L466.0,233.73 L468.5,233.73 L471.0,233.74 L473.5,233.74 L476.0,233.74 L478.5,233.75 L481.0,233.75 L483.5,233.76 L486.0,233.76 L488.5,233.77 L491.0,233.77 L493.5,233.78 L496.0,233.79 L498.5,233.79 L501.0,233.80 L503.5,233.81 L506.0,233.81 L508.5,233.82 L511.0,233.83 L513.5,233.84 L516.0,233.84 L518.5,233.85 L521.0,233.86 L523.5,233.87 L526.0,233.88 L528.5,233.89 L531.0,233.90 L533.5,233.91 L536.0,233.92 L538.5,233.93 L541.0,233.94 L543.5,233.96 L546.0,233.97 L548.5,233.98 L551.0,233.99 L553.5,234.01 L556.0,234.02 L558.5,234.04 L561.0,234.05 L563.5,234.07 L566.0,234.08 L568.5,234.10 L571.0,234.11 L573.5,234.13 L576.0,234.15 L578.5,234.16 L581.0,234.18 L583.5,234.20 L586.0,234.22 L588.5,234.24 L591.0,234.26 L593.5,234.28 L596.0,234.30 L598.5,234.32 L601.0,234.34 L603.5,234.37 L606.0,234.39 L608.5,234.41 L611.0,234.43 L613.5,234.46 L616.0,234.48 L618.5,234.51 L621.0,234.53 L623.5,234.56 L626.0,234.59 L628.5,234.61 L631.0,234.64 L633.5,234.67 L636.0,234.70 L638.5,234.73 L641.0,234.76 L643.5,234.79 L646.0,234.82 L648.5,234.85 L651.0,234.89 L653.5,234.92 L656.0,234.95 L658.5,234.99 L661.0,235.02 L663.5,235.06 L666.0,235.09 L668.5,235.13 L671.0,235.17 L673.5,235.21 L676.0,235.24 L678.5,235.28 L681.0,235.32 L683.5,235.36 L686.0,235.41 L688.5,235.45 L691.0,235.49 L693.5,235.53 L696.0,235.58 L698.5,235.62 L701.0,235.67 L703.5,235.72 L706.0,235.76 L708.5,235.81 L711.0,235.86 L713.5,235.91 L716.0,235.96 L718.5,236.01 L721.0,236.07 L723.5,236.12 L726.0,236.17 L728.5,236.23 L731.0,236.29 L733.5,236.34 L736.0,236.40 L738.5,236.46 L741.0,236.53 L743.5,236.59 L746.0,236.65 L748.5,236.72 L751.0,236.78 L753.5,236.85 L756.0,236.92 L758.5,236.99 L761.0,237.06 L763.5,237.13 L766.0,237.20 L768.5,237.28 L771.0,237.36 L773.5,237.43 L776.0,237.51 L778.5,237.59 L781.0,237.68 L783.5,237.76 L786.0,237.85 L788.5,237.93 L791.0,238.02 L793.5,238.11 L796.0,238.20 L798.5,238.30 L801.0,238.39 L803.5,238.49 L806.0,238.59 L808.5,238.68 L811.0,238.79 L813.5,238.89 L816.0,238.99 L818.5,239.10 L821.0,239.21 L823.5,239.32 L826.0,239.43 L828.5,239.54 L831.0,239.66 L833.5,239.77 L836.0,239.89 L838.5,240.01 L841.0,240.13 L843.5,240.26 L846.0,240.38 L848.5,240.51 L851.0,240.64 L853.5,240.77 L856.0,240.91 L858.5,241.04 L861.0,241.18 L863.5,241.32 L866.0,241.46 L868.5,241.60 L871.0,241.75 L873.5,241.89 L876.0,242.04 L878.5,242.19 L881.0,242.34 L883.5,242.50 L886.0,242.66 L888.5,242.81 L891.0,242.98 L893.5,243.14 L896.0,243.30 L898.5,243.47 L901.0,243.64 L903.5,243.81 L906.0,243.99 L908.5,244.16 L911.0,244.34 L913.5,244.52 L916.0,244.70 L918.5,244.89 L921.0,245.07 L923.5,245.26 L926.0,245.46 L928.5,245.65 L931.0,245.84 L933.5,246.04 L936.0,246.24 L938.5,246.45 L941.0,246.65 L943.5,246.86 L946.0,247.07 L948.5,247.28 L951.0,247.50 L953.5,247.71 L956.0,247.93 L958.5,248.16 L961.0,248.38 L963.5,248.61 L966.0,248.84 L968.5,249.07 L971.0,249.30 L973.5,249.54 L976.0,249.78 L978.5,250.02 L981.0,250.26 L983.5,250.51 L986.0,250.76 L988.5,251.02 L991.0,251.27 L993.5,251.53 L996.0,251.80 L998.5,252.06 L1001.0,252.34 L1003.5,252.61 L1006.0,252.89 L1008.5,253.17 L1011.0,253.46 L1013.5,253.75 L1016.0,254.05 L1018.5,254.35 L1021.0,254.66 L1023.5,254.97 L1026.0,255.29 L1028.5,255.61 L1031.0,255.94 L1033.5,256.28 L1036.0,256.62 L1038.5,256.96 L1041.0,257.31 L1043.5,257.67 L1046.0,258.04 L1048.5,258.41 L1051.0,258.78 L1053.5,259.17 L1056.0,259.56 L1058.5,259.96 L1061.0,260.37 L1063.5,260.78 L1066.0,261.20 L1068.5,261.63 L1071.0,262.06 L1073.5,262.51 L1076.0,262.96 L1078.5,263.42 L1081.0,263.89 L1083.5,264.37 L1086.0,264.85 L1088.5,265.35 L1091.0,265.85 L1093.5,266.36 L1096.0,266.88 L1098.5,267.41 L1101.0,267.95 L1103.5,268.50 L1106.0,269.06 L1108.5,269.63 L1111.0,270.21 L1113.5,270.79 L1116.0,271.39 L1118.5,271.99 L1121.0,272.61 L1123.5,273.23 L1126.0,273.86 L1128.5,274.51 L1131.0,275.16 L1133.5,275.82 L1136.0,276.50 L1138.5,277.18 L1141.0,277.87 L1143.5,278.57 L1146.0,279.28 L1148.5,280.00 L1151.0,280.73 L1153.5,281.48 L1156.0,282.23 L1158.5,282.99 L1161.0,283.76 L1163.5,284.54 L1166.0,285.33 L1168.5,286.14 L1171.0,286.95 L1173.5,287.77 L1176.0,288.60 L1178.5,289.45 L1181.0,290.30 L1183.5,291.16 L1186.0,292.04 L1188.5,292.92 L1191.0,293.82 L1193.5,294.73 L1196.0,295.64 L1198.5,296.57 L1201.0,297.51 L1203.5,298.46 L1206.0,299.42 L1208.5,300.39 L1211.0,301.37 L1213.5,302.36 L1216.0,303.36 L1218.5,304.37 L1221.0,305.39 L1223.5,306.42 L1226.0,307.46 L1228.5,308.51 L1231.0,309.57 L1233.5,310.64 L1236.0,311.72 L1238.5,312.81 L1241.0,313.91 L1243.5,315.01 L1246.0,316.13 L1248.5,317.25 L1251.0,318.39 L1253.5,319.53 L1256.0,320.68 L1258.5,321.84 L1261.0,323.01 L1263.5,324.18 L1266.0,325.37 L1268.5,326.56 L1271.0,327.76 L1273.5,328.97 L1276.0,330.19 L1278.5,331.41 L1281.0,332.64 L1283.5,333.88 L1286.0,335.13 L1288.5,336.39 L1291.0,337.65 L1293.5,338.92 L1296.0,340.19 L1298.5,341.48 L1301.0,342.77 L1303.5,344.06 L1306.0,345.37 L1308.5,346.68 L1311.0,347.99 L1313.5,349.32 L1316.0,350.65 L1318.5,351.98 L1321.0,353.32 L1323.5,354.67 L1326.0,356.03 L1328.5,357.39 L1331.0,358.75 L1333.5,360.12 L1336.0,361.50 L1338.5,362.88 L1341.0,364.27 L1343.5,365.66 L1346.0,367.06 L1348.5,368.47 L1351.0,369.87 L1353.5,371.29 L1356.0,372.70 L1358.5,374.13 L1361.0,375.55 L1363.5,376.99 L1366.0,378.42 L1368.5,379.86 L1371.0,381.31 L1373.5,382.76 L1376.0,384.21 L1378.5,385.67 L1381.0,387.13 L1383.5,388.59 L1386.0,390.06 L1388.5,391.53 L1391.0,393.01 L1393.5,394.49 L1396.0,395.97 L1398.5,397.45 L1401.0,398.94 L1403.5,400.43 L1406.0,401.93 L1408.5,403.42 L1411.0,404.92 L1413.5,406.42 L1416.0,407.93 L1418.5,409.43 L1421.0,410.94 L1423.5,412.46 L1426.0,413.97 L1428.5,415.48 L1431.0,417.00 L1433.5,418.52 L1436.0,420.04 L1438.5,421.56 L1441.0,423.09 L1443.5,424.61 L1446.0,426.14 L1448.5,427.67 L1451.0,429.20 L1453.5,430.73 L1456.0,432.26 L1458.5,433.79 L1461.0,435.32 L1463.5,436.86 L1466.0,438.39 L1468.5,439.93 L1471.0,441.46 L1473.5,443.00 L1476.0,444.53 L1478.5,446.07 L1481.0,447.60 L1483.5,449.14 L1486.0,450.67 L1488.5,452.21 L1491.0,453.74 L1493.5,455.28 L1496.0,456.81 L1498.5,458.34 L1501.0,459.87 L1503.5,461.41 L1506.0,462.94 L1506.2,463.03 L1508.7,464.79 L1511.2,466.31 L1513.7,467.64 L1514.4,468.00 L1516.2,468.75 L1518.7,469.69 L1521.2,470.57 L1522.3,471.00 L1523.7,471.49 L1526.2,472.48 L1526.2,472.50 L1528.7,474.07 L1530.4,475.30 L1531.2,475.77 L1533.7,477.31 L1536.2,478.80 L1538.5,480.20 L1538.7,480.29 L1541.2,481.80 L1543.7,483.30 L1546.2,484.79 L1546.5,485.00 L1548.7,486.27 L1551.2,487.73 L1553.7,489.16 L1554.6,489.70 L1556.2,490.56 L1558.7,491.90 L1561.2,493.25 L1562.7,494.10 L1563.7,494.64 L1566.2,496.07 L1568.7,497.52 L1570.0,498.30 L1571.2,498.96 L1573.7,500.40 L1576.2,501.85 L1578.7,503.30 L1581.2,504.74 L1583.7,506.16 L1586.2,507.54 L1588.7,508.89 L1590.4,509.80 L1591.2,510.18 L1593.7,511.44 L1596.2,512.68 L1598.7,513.89 L1601.2,515.07 L1603.7,516.22 L1606.2,517.35 L1608.7,518.46 L1610.6,519.30 L1611.2,519.53 L1613.7,520.57 L1616.2,521.56 L1618.7,522.54 L1621.2,523.50 L1623.7,524.47 L1626.2,525.46 L1626.5,525.60 L1628.7,526.48 L1631.2,527.53 L1633.7,528.60 L1636.2,529.68 L1638.7,530.76 L1641.2,531.83 L1643.7,532.88 L1646.2,533.90 L1648.7,534.88 L1650.8,535.70 L1651.2,535.81 L1653.7,536.71 L1656.2,537.59 L1658.7,538.45 L1661.2,539.29 L1663.7,540.10 L1666.2,540.88 L1668.7,541.63 L1671.0,542.30 L1671.2,542.34 L1673.7,543.03 L1676.2,543.71 L1678.7,544.37 L1681.2,545.01 L1683.7,545.62 L1686.2,546.19 L1688.7,546.72 L1691.1,547.20 L1691.2,547.21 L1693.7,547.68 L1696.2,548.13 L1698.7,548.52 L1701.2,548.83 L1702.0,548.90 L1703.7,549.03 L1706.2,549.19 L1708.7,549.31 L1710.4,549.35"/>
</defs>
<g fill="none" stroke-width="2.7" stroke-linejoin="round" stroke-linecap="butt" shape-rendering="crispEdges">
<g stroke="#0072BD">
<use href="#c-blue" transform="translate(-0.5,-0.5)"/>
<use href="#c-blue" transform="translate(0.5,-0.5)"/>
<use href="#c-blue" transform="translate(-0.5,0.5)"/>
<use href="#c-blue" transform="translate(0.5,0.5)"/>
</g>
<g stroke="#D95319">
<use href="#c-orange" transform="translate(-0.5,-0.5)"/>
<use href="#c-orange" transform="translate(0.5,-0.5)"/>
<use href="#c-orange" transform="translate(-0.5,0.5)"/>
<use href="#c-orange" transform="translate(0.5,0.5)"/>
</g>
<g stroke="#EDB120">
<use href="#c-yellow" transform="translate(-0.5,-0.5)"/>
<use href="#c-yellow" transform="translate(0.5,-0.5)"/>
<use href="#c-yellow" transform="translate(-0.5,0.5)"/>
<use href="#c-yellow" transform="translate(0.5,0.5)"/>
</g>
</g>
<rect x="1709" y="124" width="3" height="1306" fill="#000" shape-rendering="crispEdges"/>
<g shape-rendering="crispEdges">
<rect x="778" y="1169" width="787" height="220" fill="#262626"/>
<rect x="781" y="1172" width="780" height="213" fill="#fff"/>
<rect x="795" y="1210" width="163" height="3" fill="#0072BD"/>
<rect x="795" y="1277" width="163" height="4" fill="#D95319"/>
<rect x="795" y="1345" width="163" height="3" fill="#EDB120"/>
</g>
<text transform="translate(969.20,1230.20) scale(1,0.995)" font-size="48.6" fill="#000" stroke="#000" stroke-width="0.7">Complementary Sensitivity</text>
<text transform="translate(969.20,1297.80) scale(1,0.995)" font-size="48.6" fill="#000" stroke="#000" stroke-width="0.7">Output Sensitivity</text>
<text transform="translate(969.20,1365.00) scale(1,0.995)" font-size="48.6" fill="#000" stroke="#000" stroke-width="0.7">Control Sensitivity</text>
<text transform="translate(1064.10,70.70) scale(1,0.995)" font-size="59.2" font-weight="bold" text-anchor="middle" fill="#000" stroke="#000" stroke-width="0.7">Bode Diagram</text>
<text transform="translate(1066.20,1591.10) scale(1,0.995)" font-size="59.6" text-anchor="middle" fill="#000" stroke="#000" stroke-width="0.7" xml:space="preserve">Frequency  (rad/s)</text>
<text transform="translate(80.00,777.80) rotate(-90) scale(1,0.995)" font-size="59.7" text-anchor="middle" fill="#000" stroke="#000" stroke-width="0.7">Magnitude (dB)</text>
<text transform="translate(192.30,145.50) scale(1,1.04)" font-size="54.17" text-anchor="end" fill="#666666" stroke="#666666" stroke-width="0.7">40</text>
<text transform="translate(192.30,290.38) scale(1,1.04)" font-size="54.17" text-anchor="end" fill="#666666" stroke="#666666" stroke-width="0.7">30</text>
<text transform="translate(192.30,435.26) scale(1,1.04)" font-size="54.17" text-anchor="end" fill="#666666" stroke="#666666" stroke-width="0.7">20</text>
<text transform="translate(192.30,580.13) scale(1,1.04)" font-size="54.17" text-anchor="end" fill="#666666" stroke="#666666" stroke-width="0.7">10</text>
<text transform="translate(192.30,725.01) scale(1,1.04)" font-size="54.17" text-anchor="end" fill="#666666" stroke="#666666" stroke-width="0.7">0</text>
<text transform="translate(192.30,869.89) scale(1,1.04)" font-size="54.17" text-anchor="end" fill="#666666" stroke="#666666" stroke-width="0.7">-10</text>
<text transform="translate(192.30,1014.77) scale(1,1.04)" font-size="54.17" text-anchor="end" fill="#666666" stroke="#666666" stroke-width="0.7">-20</text>
<text transform="translate(192.30,1159.64) scale(1,1.04)" font-size="54.17" text-anchor="end" fill="#666666" stroke="#666666" stroke-width="0.7">-30</text>
<text transform="translate(192.30,1304.52) scale(1,1.04)" font-size="54.17" text-anchor="end" fill="#666666" stroke="#666666" stroke-width="0.7">-40</text>
<text transform="translate(192.30,1449.40) scale(1,1.04)" font-size="54.17" text-anchor="end" fill="#666666" stroke="#666666" stroke-width="0.7">-50</text>
<text transform="translate(163.95,1521.90) scale(1,1.04)" font-size="54.17" fill="#666666" stroke="#666666" stroke-width="0.7">10</text>
<text transform="translate(225.45,1496.90) scale(1,1.04)" font-size="43.3" fill="#666666" stroke="#666666" stroke-width="0.7">-1</text>
<text transform="translate(598.35,1521.90) scale(1,1.04)" font-size="54.17" fill="#666666" stroke="#666666" stroke-width="0.7">10</text>
<text transform="translate(659.85,1496.90) scale(1,1.04)" font-size="43.3" fill="#666666" stroke="#666666" stroke-width="0.7">0</text>
<text transform="translate(1025.54,1521.90) scale(1,1.04)" font-size="54.17" fill="#666666" stroke="#666666" stroke-width="0.7">10</text>
<text transform="translate(1087.04,1496.90) scale(1,1.04)" font-size="43.3" fill="#666666" stroke="#666666" stroke-width="0.7">1</text>
<text transform="translate(1452.74,1521.90) scale(1,1.04)" font-size="54.17" fill="#666666" stroke="#666666" stroke-width="0.7">10</text>
<text transform="translate(1514.24,1496.90) scale(1,1.04)" font-size="43.3" fill="#666666" stroke="#666666" stroke-width="0.7">2</text>
<text transform="translate(1879.93,1521.90) scale(1,1.04)" font-size="54.17" fill="#666666" stroke="#666666" stroke-width="0.7">10</text>
<text transform="translate(1941.43,1496.90) scale(1,1.04)" font-size="43.3" fill="#666666" stroke="#666666" stroke-width="0.7">3</text>
</svg>
</body></html>
